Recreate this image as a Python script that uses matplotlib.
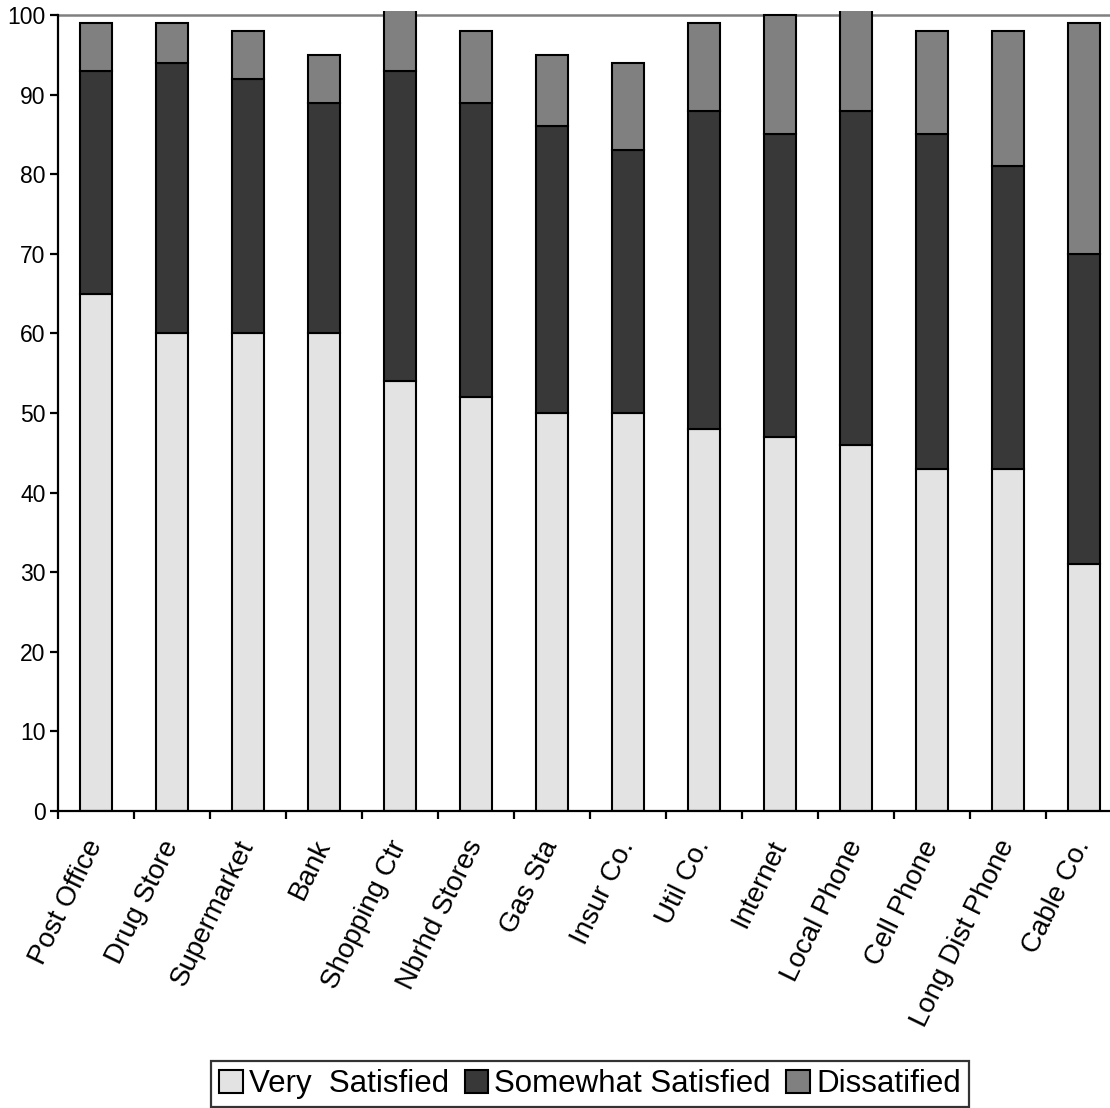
import numpy as np
import matplotlib.pyplot as plt
from matplotlib.ticker import FixedLocator

plt.rcParams['font.family'] = ['Liberation Sans', 'DejaVu Sans']

categories = ["Post Office", "Drug Store", "Supermarket", "Bank", "Shopping Ctr",
              "Nbrhd Stores", "Gas Sta", "Insur Co.", "Util Co.", "Internet",
              "Local Phone", "Cell Phone", "Long Dist Phone", "Cable Co."]
very_satisfied = [65, 60, 60, 60, 54, 52, 50, 50, 48, 47, 46, 43, 43, 31]
somewhat_satisfied = [28, 34, 32, 29, 39, 37, 36, 33, 40, 38, 42, 42, 38, 39]
dissatisfied = [6, 5, 6, 6, 8, 9, 9, 11, 11, 15, 13, 13, 17, 29]

series_names = ["Very  Satisfied", "Somewhat Satisfied", "Dissatified"]
colors = ["#e3e3e3", "#383838", "#808080"]

W, H = 1110, 1108
fig = plt.figure(figsize=(W / 100, H / 100), dpi=100)
# plot area runs a little past the right edge of the figure
ax = fig.add_axes([58 / W, (H - 811) / H, 1064 / W, 800 / H])

x = np.arange(len(categories))
bottom = np.zeros(len(categories))
handles = []
for vals, name, col in zip([very_satisfied, somewhat_satisfied, dissatisfied],
                           series_names, colors):
    b = ax.bar(x, vals, width=0.42, bottom=bottom, color=col,
               edgecolor="black", linewidth=1.5, label=name)
    handles.append(b)
    bottom += np.array(vals)

ax.set_xlim(-0.5, len(categories) - 0.5)
ax.set_ylim(0, 100.5)
ax.axhline(100, color="#808080", linewidth=1.8, zorder=0.5)

for s in ["top", "right"]:
    ax.spines[s].set_visible(False)
ax.spines["left"].set_bounds(0, 100)
ax.spines["left"].set_linewidth(1.6)
ax.spines["bottom"].set_linewidth(1.6)

ax.set_yticks(np.arange(0, 101, 10))
ax.tick_params(axis="y", length=6, width=1.6, pad=3, labelsize=16.5)

ax.set_xticks(x)
ax.set_xticklabels(categories, rotation=64, ha="right", va="center",
                   rotation_mode="anchor", fontsize=20)
ax.xaxis.set_minor_locator(FixedLocator(np.arange(-0.5, len(categories), 1.0)))
ax.tick_params(axis="x", which="major", length=0, pad=22)
ax.tick_params(axis="x", which="minor", length=6, width=1.6)

leg = fig.legend(handles=handles, loc="lower center", ncol=3,
                 bbox_to_anchor=(590 / W, 1 / H), fontsize=22.5, frameon=True,
                 fancybox=False, edgecolor="black", handlelength=0.75,
                 handleheight=0.75, handletextpad=0.2, columnspacing=0.5,
                 borderpad=0.25, borderaxespad=0)
leg.get_frame().set_linewidth(1.6)

fig.savefig("out.png", dpi=100)
